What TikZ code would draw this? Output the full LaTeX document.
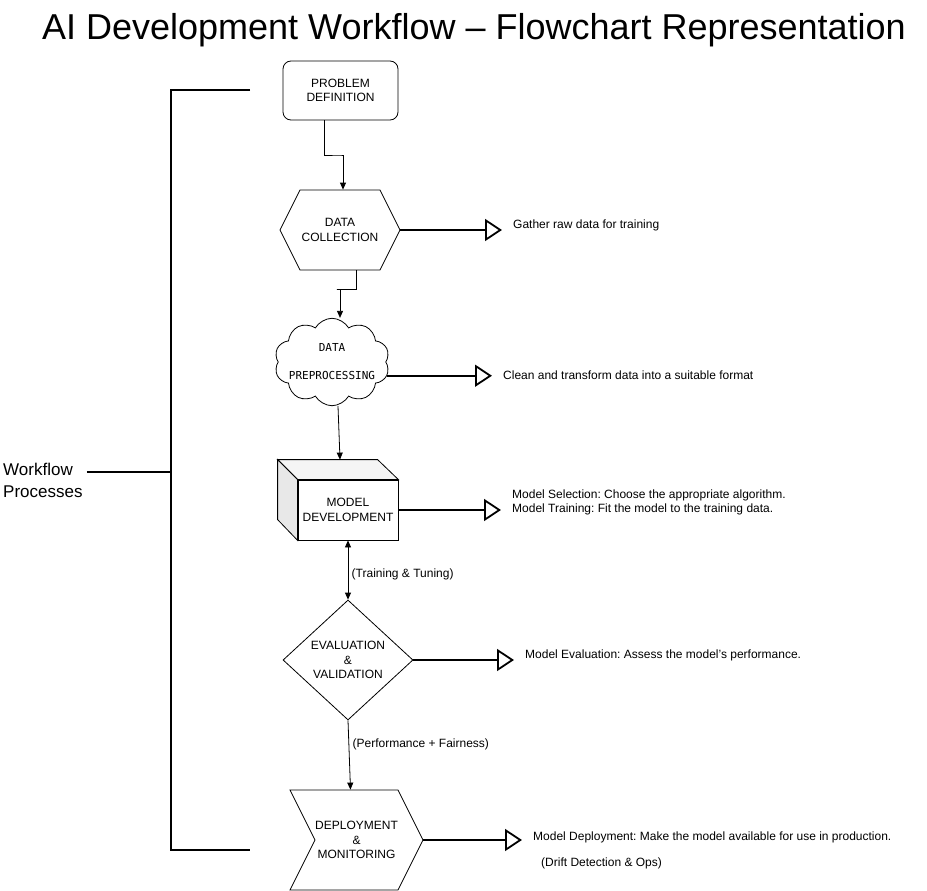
\documentclass[tikz,border=0pt]{standalone}
\usepackage{fontspec}
\setmainfont{Liberation Sans}
\newfontfamily\cloudfont{DejaVu Sans Mono}
\usetikzlibrary{arrows.meta,shapes.geometric,shapes.symbols,calc}
\frenchspacing

\begin{document}
\begin{tikzpicture}[x=1pt, y=-1pt,
		box/.style = {draw, line width=.8pt, align=center, inner sep=0pt, font=\fontsize{12}{14.5}\selectfont},
		flow/.style = {line width=.8pt, -{Triangle[length=7pt, width=6pt]}},
		side/.style = {line width=1.8pt, -{Triangle[open, length=17pt 0, width=22pt 0]}, shorten >=11pt},
		note/.style = {anchor=west, align=left, inner sep=0pt, font=\fontsize{12}{14}\selectfont}]
		\useasboundingbox (0,0) rectangle (927,891);
		\node[font=\fontsize{36}{40}\selectfont] (title) at (474,30) {AI Development Workflow – Flowchart Representation};
		% the main chain
		\node[box, rounded corners=8pt, minimum width=115pt, minimum height=59pt] (prob) at (340.5,90.5) {PROBLEM\\DEFINITION};
		\node[box, signal, signal to=east and west, signal pointer angle=126.87, minimum width=120pt, minimum height=80pt] (col) at (340,230) {DATA\\COLLECTION};
		\node[box, cloud, cloud puffs=10, cloud puff arc=120, aspect=1.5, inner xsep=-5pt, inner ysep=-6pt, font=\cloudfont\fontsize{11}{28}\selectfont] (prep) at (332,362) {DATA\\PREPROCESSING};
		\node[box, minimum width=100pt, minimum height=60pt] (dev) at (348,510) {MODEL\\DEVELOPMENT};
		\filldraw[fill=gray!8, line width=.8pt] (dev.north west) -- ++(-20,-20) -- ++(100,0) -- (dev.north east) -- cycle;
		\filldraw[fill=gray!18, line width=.8pt] (dev.north west) -- ++(-20,-20) -- ++(0,60) -- (dev.south west) -- cycle;
		\node[box, diamond, minimum width=130pt, minimum height=120pt] (eval) at (348,660) {EVALUATION\\\&\\VALIDATION};
		\node[box, signal, signal from=west, signal to=east, signal pointer angle=126.87, minimum width=133pt, minimum height=100pt] (dep) at (356.5,840) {DEPLOYMENT\\\&\\MONITORING};
		% connectors
		\draw[flow] ([xshift=-16.5pt]prob.south) |- ($(prob.south)!.5!(col.north)$) -| ([xshift=3pt]col.north);
		\draw[flow] ([xshift=16pt]col.south) |- ($(col.south)!.4!(prep.north)$) -| ([xshift=8pt]prep.north);
		\coordinate (devtop) at ($(dev.north)+(-8,-20)$);
		\draw[flow] ([xshift=6pt]prep.south) -- (devtop);
		\draw[line width=.8pt, {Triangle[length=7pt, width=6pt]}-{Triangle[length=7pt, width=6pt]}] (dev.south) -- node[right, pos=.58, font=\fontsize{12}{14}\selectfont] {(Training \& Tuning)} (eval.north);
		\draw[flow] (eval.south) -- node[right, pos=.35, font=\fontsize{12}{14}\selectfont] {(Performance + Fairness)} ([xshift=-6pt]dep.north);
		% side notes
		\node[note] (gather) at (513,225) {Gather raw data for training};
		\node[note] (clean) at (503,375) {Clean and transform data into a suitable format};
		\node[note] (train) at (512,502) {Model Selection: Choose the appropriate algorithm.\\Model Training: Fit the model to the training data.};
		\node[note] (assess) at (525,655) {Model Evaluation: Assess the model's performance.};
		\node[note] (deploy) at (533,837) {Model Deployment: Make the model available for use in production.};
		\node[note] (drift) at (541,863) {(Drift Detection \& Ops)};
		\foreach \src/\lbl in {col.east/gather, prep.-14/clean, dev.east/train, eval.east/assess, dep.east/deploy}{
			\draw[side] (\src) -- (\src -| \lbl.west);}
		% bracket
		\node[anchor=west, align=left, inner sep=0pt, font=\fontsize{17}{22}\selectfont] (wf) at (3,480) {Workflow\\Processes};
		\coordinate (brtop) at (250,90);
		\coordinate (brbot) at (250,850);
		\coordinate (brmid) at (171,472);
		\draw[line width=1.8pt] (brtop) -| (brmid) |- (brbot);
		\draw[line width=1.8pt] ([xshift=4pt]wf.east |- brmid) -- (brmid);
\end{tikzpicture}
\end{document}
